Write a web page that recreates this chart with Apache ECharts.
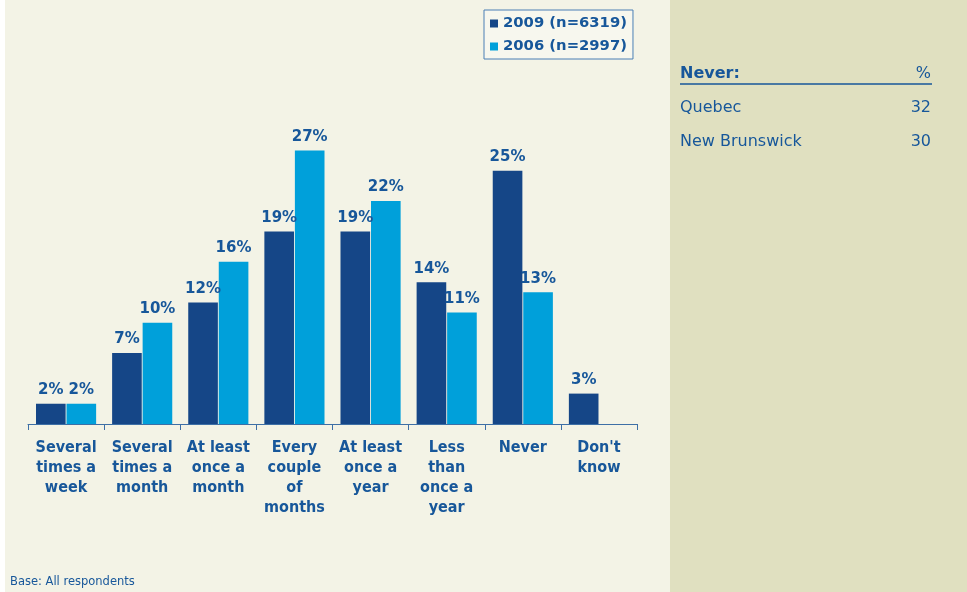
<!DOCTYPE html>
<html>
<head>
<meta charset="utf-8">
<script src="https://cdn.jsdelivr.net/npm/echarts@6/dist/echarts.min.js"></script>
<style>
html, body { margin: 0; padding: 0; background: #ffffff; }
#chart { width: 967px; height: 592px; }
</style>
</head>
<body>
<div id="chart"></div>
<script>
// chart data
var categories = ['Several\ntimes a\nweek', 'Several\ntimes a\nmonth', 'At least\nonce a\nmonth', 'Every\ncouple\nof\nmonths',
                  'At least\nonce a\nyear', 'Less\nthan\nonce a\nyear', 'Never', "Don't\nknow"];
var values2009 = [2, 7, 12, 19, 19, 14, 25, 3];
var values2006 = [2, 10, 16, 27, 22, 11, 13, '-'];
var seriesNames = ['2009 (n=6319)', '2006 (n=2997)'];
var sideTitle = 'Never:';
var sideRows = ['Quebec', 'New Brunswick'];
var sideValues = [32, 30];

var textBlue = '#17579a';
var fontC = '"DejaVu Sans Condensed", "DejaVu Sans", sans-serif';
var fontW = '"DejaVu Sans", sans-serif';

var myChart = echarts.init(document.getElementById('chart'));

var side = [
    { type: 'rect', shape: { x: 5, y: 0, width: 665, height: 592 }, style: { fill: '#f3f3e6' }, z: -10 },
    { type: 'rect', shape: { x: 670, y: 0, width: 297, height: 592 }, style: { fill: '#e0e0c0' }, z: -10 },
    { type: 'text', left: 680, top: 66, style: { text: sideTitle, fill: textBlue, font: 'bold 16px ' + fontW } },
    { type: 'text', right: 36, top: 66, style: { text: '%', fill: textBlue, font: '16px ' + fontW, align: 'right' } },
    { type: 'line', shape: { x1: 680, y1: 84, x2: 932, y2: 84 }, style: { stroke: '#17579a', lineWidth: 1.5 } },
    { type: 'text', left: 10, top: 576, style: { text: 'Base: All respondents', fill: textBlue, font: '11.5px ' + fontW } }
];
for (var i = 0; i < sideRows.length; i++) {
    side.push({ type: 'text', left: 680, top: 100 + i * 34, style: { text: sideRows[i], fill: textBlue, font: '16px ' + fontW } });
    side.push({ type: 'text', right: 36, top: 100 + i * 34, style: { text: String(sideValues[i]), fill: textBlue, font: '16px ' + fontW, align: 'right' } });
}

var option = {
    backgroundColor: '#ffffff',
    animation: false,
    textStyle: { fontFamily: fontC },
    legend: {
        orient: 'vertical',
        left: 484,
        top: 10,
        padding: [6, 6, 5, 6],
        itemGap: 8,
        itemWidth: 8,
        itemHeight: 8,
        icon: 'rect',
        borderColor: '#4a7fb5',
        borderWidth: 1,
        backgroundColor: '#f7f7ee',
        textStyle: { color: textBlue, fontWeight: 'bold', fontSize: 14.8, fontFamily: fontW },
        data: seriesNames
    },
    grid: { left: 28, right: 330, top: 120, bottom: 168, containLabel: false },
    xAxis: {
        type: 'category',
        data: categories,
        axisLine: { lineStyle: { color: '#3d6fa6', width: 1 } },
        axisTick: { show: true, length: 6, lineStyle: { color: '#3d6fa6' } },
        axisLabel: { color: textBlue, fontWeight: 'bold', fontSize: 16, lineHeight: 20, margin: 14, interval: 0, fontFamily: fontC }
    },
    yAxis: {
        type: 'value',
        min: 0,
        max: 30,
        show: false,
        splitLine: { show: false }
    },
    series: [
        {
            name: seriesNames[0],
            type: 'bar',
            data: values2009,
            barGap: '3%',
            barCategoryGap: '21%',
            itemStyle: { color: '#154687' },
            label: { show: true, position: 'top', formatter: '{c}%', color: textBlue, fontWeight: 'bold', fontSize: 15, distance: 6, fontFamily: fontW }
        },
        {
            name: seriesNames[1],
            type: 'bar',
            data: values2006,
            itemStyle: { color: '#00a0da' },
            label: { show: true, position: 'top', formatter: '{c}%', color: textBlue, fontWeight: 'bold', fontSize: 15, distance: 6, fontFamily: fontW }
        }
    ],
    graphic: side
};

myChart.setOption(option);
</script>
</body>
</html>
